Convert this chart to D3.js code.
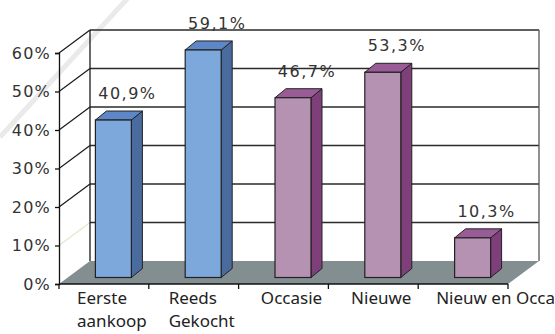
<!DOCTYPE html>
<html>
<head>
  <meta charset="utf-8">
  <script src="https://cdn.jsdelivr.net/npm/d3@7"></script>
  <style>
    body { margin: 0; background: #fff; }
    svg { display: block; font-family: "Noto Sans", sans-serif; }
  </style>
</head>
<body>
<script>
  const categories = [['Eerste', 'aankoop'], ['Reeds', 'Gekocht'], ['Occasie'], ['Nieuwe'], ['Nieuw en Occasie']];
  const values = [40.9, 59.1, 46.7, 53.3, 10.3];
  const labels = ['40,9%', '59,1%', '46,7%', '53,3%', '10,3%'];
  const groups = ['blue', 'blue', 'purple', 'purple', 'purple'];
  const ticks = [0, 10, 20, 30, 40, 50, 60];

  const W = 555, H = 334;
  const depthX = 31, depthY = 23;      // floor depth
  const barDX = 9.5, barDY = 6.5;      // bar front plane offset
  const sideDX = 11, sideDY = 9;       // bar depth
  const numFont = '"DejaVu Sans", sans-serif';

  const colors = {
    blue: { front: '#7ca8dc', top: '#5e87c8', side: '#4a6b9e' },
    purple: { front: '#b592b2', top: '#9a5c96', side: '#7f3f7b' }
  };

  const svg = d3.select('body').append('svg').attr('width', W).attr('height', H);

  const x = d3.scaleBand().domain(d3.range(categories.length)).range([59, 508]);
  const y = d3.scaleLinear().domain([0, 60]).range([284, 53]);

  // faint scan streak
  svg.append('line')
    .attr('x1', 0).attr('y1', 137).attr('x2', 128).attr('y2', -2)
    .attr('stroke', '#e6e6e6').attr('stroke-width', 5).attr('opacity', 0.8);

  const x0 = x.range()[0], x1 = x.range()[1];
  const yTop = y(60);

  // floor
  svg.append('polygon')
    .attr('points', [[x0, y(0)], [x1, y(0)], [x1 + depthX, y(0) - depthY], [x0 + depthX, y(0) - depthY]].join(' '))
    .attr('fill', '#838e91');

  // back wall grid lines
  svg.append('g').selectAll('line').data(ticks.slice(1)).join('line')
    .attr('x1', x0 + depthX).attr('x2', x1 + depthX)
    .attr('y1', d => y(d) - depthY).attr('y2', d => y(d) - depthY)
    .attr('stroke', '#2a2a2a').attr('stroke-width', 1.3);

  // side wall diagonals
  svg.append('g').selectAll('line').data(ticks.slice(1)).join('line')
    .attr('x1', x0).attr('y1', d => y(d))
    .attr('x2', x0 + depthX).attr('y2', d => y(d) - depthY)
    .attr('stroke', d => d === 10 ? '#e8e6c8' : '#1a1a1a').attr('stroke-width', 1.2);

  // back wall edges
  svg.append('line').attr('x1', x0 + depthX).attr('x2', x0 + depthX)
    .attr('y1', y(0) - depthY).attr('y2', yTop - depthY).attr('stroke', '#1a1a1a').attr('stroke-width', 1.3);
  svg.append('line').attr('x1', x1 + depthX).attr('x2', x1 + depthX)
    .attr('y1', y(0) - depthY).attr('y2', yTop - depthY).attr('stroke', '#555').attr('stroke-width', 1.3);

  // front y axis
  const yAxis = d3.axisLeft(y).tickValues(ticks).tickSize(4).tickFormat(d => d + '%');
  const ya = svg.append('g').attr('transform', `translate(${x0},0)`).call(yAxis);
  ya.select('.domain').attr('stroke', '#111').attr('stroke-width', 1.3);
  ya.selectAll('.tick line').attr('stroke', '#111').attr('stroke-width', 1.3);
  ya.selectAll('.tick text')
    .attr('x', -8).attr('font-size', 16).attr('fill', '#333')
    .attr('letter-spacing', '1.2px')
    .attr('font-family', numFont);

  // x axis line + ticks
  const xa = svg.append('g').attr('transform', `translate(0,${y(0)})`);
  xa.append('line').attr('x1', x0).attr('x2', x1).attr('stroke', '#111').attr('stroke-width', 1.3);
  xa.selectAll('.xt').data(d3.range(categories.length + 1)).join('line')
    .attr('x1', i => x0 + i * x.bandwidth()).attr('x2', i => x0 + i * x.bandwidth())
    .attr('y1', 0).attr('y2', 5).attr('stroke', '#111').attr('stroke-width', 1.3);

  // bars
  const bw = 36;
  const bars = svg.append('g').selectAll('g').data(values).join('g');
  bars.each(function (v, i) {
    const g = d3.select(this);
    const c = colors[groups[i]];
    const lx = x(i) + (x.bandwidth() - bw) / 2 + barDX;
    const rx = lx + bw;
    const by = y(0) - barDY;
    const ty = y(v) - barDY;
    g.append('polygon')
      .attr('points', [[rx, by], [rx + sideDX, by - sideDY], [rx + sideDX, ty - sideDY], [rx, ty]].join(' '))
      .attr('fill', c.side).attr('stroke', '#222').attr('stroke-width', 1);
    g.append('polygon')
      .attr('points', [[lx, ty], [rx, ty], [rx + sideDX, ty - sideDY], [lx + sideDX, ty - sideDY]].join(' '))
      .attr('fill', c.top).attr('stroke', '#222').attr('stroke-width', 1);
    g.append('rect')
      .attr('x', lx).attr('y', ty).attr('width', bw).attr('height', by - ty)
      .attr('fill', c.front).attr('stroke', '#222').attr('stroke-width', 1.2);
    g.append('text')
      .attr('x', lx + sideDX + bw / 2 + 3).attr('y', ty - sideDY - 12)
      .attr('text-anchor', 'middle').attr('font-size', 16).attr('letter-spacing', '1.5px')
      .attr('font-family', numFont)
      .attr('fill', '#333').text(labels[i]);
  });

  // category labels
  const cl = svg.append('g').selectAll('text').data(categories).join('text')
    .attr('font-size', 17).attr('fill', '#222');
  cl.each(function (lines, i) {
    const t = d3.select(this);
    lines.forEach((ln, j) => t.append('tspan').attr('y', 304 + j * 23).text(ln));
    const spans = t.selectAll('tspan').nodes();
    const wMax = d3.max(spans, s => s.getComputedTextLength());
    const cx = x(i) + x.bandwidth() / 2 + 8;
    const left = wMax > x.bandwidth() ? x(i) + 18 : cx - wMax / 2;
    t.selectAll('tspan').attr('x', left);
  });
</script>
</body>
</html>
